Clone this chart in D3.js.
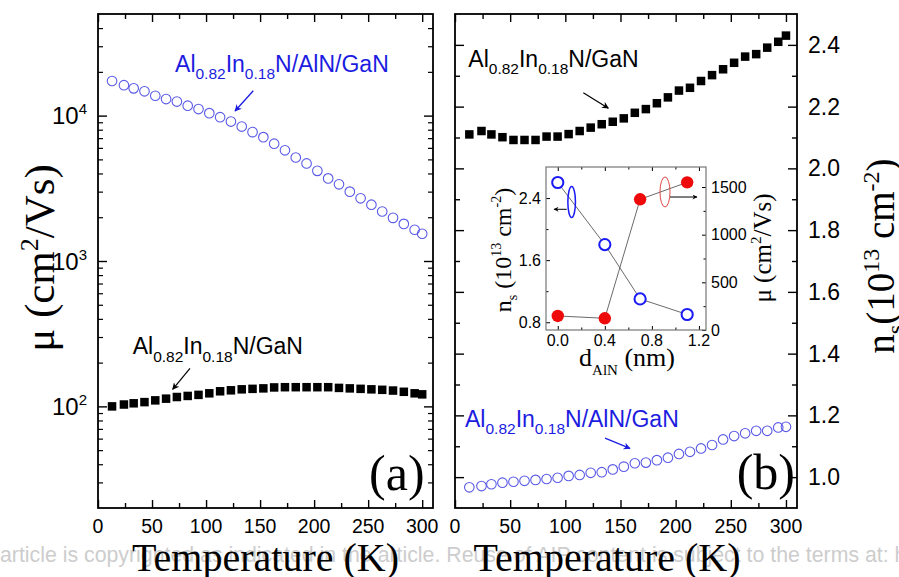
<!DOCTYPE html>
<html><head><meta charset="utf-8">
<script src="https://cdn.jsdelivr.net/npm/d3@7"></script>
<style>body{margin:0;background:#fff}svg{display:block}</style>
</head><body>
<svg id="c" width="899" height="577"></svg>
<script>
// ---------------- data ----------------
const temps = [13,24,33,43,53,63,73,83,93,103,113,123,133,143,153,163,173,183,193,203,213,223,233,243,253,263,273,283,293,300];
const muAlNGaN = [17300,16200,15400,14700,13700,13000,12500,11700,11100,10400,9750,9100,8410,7700,7110,6410,5770,5150,4690,4170,3700,3370,3000,2700,2440,2190,1980,1800,1640,1540];
const muGaN = [100,103,105,107,110,113,116,118,120,123,127,129,131,132,133,135,135.5,135.5,135.5,135.5,135.5,134,133,132,131,130,128.5,126,123,121];
const nsGaN = [2.110,2.121,2.110,2.101,2.092,2.092,2.092,2.103,2.103,2.111,2.121,2.132,2.143,2.151,2.162,2.180,2.192,2.211,2.230,2.252,2.261,2.283,2.302,2.321,2.342,2.362,2.370,2.391,2.410,2.430];
const nsAlNGaN = [0.967,0.971,0.977,0.982,0.985,0.988,0.991,0.994,0.998,1.004,1.007,1.014,1.016,1.025,1.034,1.045,1.047,1.055,1.063,1.075,1.082,1.093,1.104,1.122,1.133,1.142,1.150,1.150,1.161,1.163];
const dAlN = [0.0, 0.4, 0.7, 1.1];
const insetNs = [2.60, 1.80, 1.10, 0.90];
const insetMu = [147, 123, 1371, 1549];

const xTickMajor = [0,50,100,150,200,250,300];
const xTickMinor = [25,75,125,175,225,275];
const muTickMajor = [100,1000,10000];
const muTickExp = [2,3,4];
const nsTickMajor = [1.0,1.2,1.4,1.6,1.8,2.0,2.2,2.4];
const nsTickMinor = [1.1,1.3,1.5,1.7,1.9,2.1,2.3];
const insXMajor = [0.0,0.4,0.8,1.2];
const insXMinor = [0.2,0.6,1.0];
const insNsMajor = [0.8,1.6,2.4];
const insNsMinor = [1.2,2.0];
const insMuMajor = [0,500,1000,1500];
const insMuMinor = [250,750,1250];

const watermark = "article is copyrighted as indicated in the article. Reuse of AIP content is subject to the terms at: h";

// ---------------- setup ----------------
const SANS = "'Liberation Sans', Arial, Helvetica, sans-serif";
const SERIF = "'Liberation Serif', 'Times New Roman', Times, serif";
const BLUE_TXT = "#1c1ce0";
const BLUE_MK = "#5a5ae6";
const svg = d3.select("#c");

const defs = svg.append("defs");
function marker(id, color, w, h){
  defs.append("marker").attr("id", id).attr("viewBox","0 0 10 10").attr("refX",9).attr("refY",5)
    .attr("markerWidth", w).attr("markerHeight", h).attr("orient","auto").attr("markerUnits","userSpaceOnUse")
    .append("path").attr("d","M0,0 L10,5 L0,10 L3,5 Z").attr("fill", color);
}
marker("arrK","#000",9,7);
marker("arrB",BLUE_TXT,9,7);
marker("arrKs","#000",7,5);

// watermark (behind)
svg.append("text").attr("x",0).attr("y",562).attr("font-family",SANS).attr("font-size",21.3)
  .attr("fill","#cdcdcd").text(watermark);

// scales
const xL = d3.scaleLinear([0,310],[98,433]);
const yL = d3.scaleLog([20,50000],[508,14]);
const xR = d3.scaleLinear([0,310],[455,797]);
const yR = d3.scaleLinear([0.9,2.5],[508,14]);
const xI = d3.scaleLinear([-0.1,1.26],[546,706]);
const yIL = d3.scaleLinear([0.7,2.8],[330,167]);
const yIR = d3.scaleLinear([0,1710],[330,167]);

function tickSet(parent, axisFn, scale, vals, size, tx, ty, sw){
  const g = parent.append("g").attr("transform",`translate(${tx},${ty})`)
    .call(axisFn(scale).tickValues(vals).tickSize(-size).tickSizeOuter(0).tickFormat(""));
  g.select(".domain").remove();
  g.selectAll("line").attr("stroke","#000").attr("stroke-width",sw);
  return g;
}

function annot(parent, x, y, color, tail, size, subSize){
  const t = parent.append("text").attr("x",x).attr("y",y).attr("font-family",SANS)
    .attr("font-size",size).attr("fill",color);
  const sh = size*0.33;
  t.append("tspan").text("Al");
  t.append("tspan").attr("dy",sh).attr("font-size",subSize).text("0.82");
  t.append("tspan").attr("dy",-sh).text("In");
  t.append("tspan").attr("dy",sh).attr("font-size",subSize).text("0.18");
  t.append("tspan").attr("dy",-sh).text(tail);
  return t;
}
function arrow(parent, x1,y1,x2,y2,color,mk,w){
  parent.append("line").attr("x1",x1).attr("y1",y1).attr("x2",x2).attr("y2",y2)
    .attr("stroke",color).attr("stroke-width",w).attr("marker-end",`url(#${mk})`);
}

// ---------------- left panel ----------------
const L = svg.append("g");
L.selectAll("circle.a").data(temps).join("circle").attr("class","a")
  .attr("cx",(d)=>xL(d)).attr("cy",(d,i)=>yL(muAlNGaN[i])).attr("r",4.8)
  .attr("fill","none").attr("stroke",BLUE_MK).attr("stroke-width",1.1);
L.selectAll("rect.s").data(temps).join("rect").attr("class","s")
  .attr("x",(d)=>xL(d)-4.25).attr("y",(d,i)=>yL(muGaN[i])-4.25).attr("width",8.5).attr("height",8.5).attr("fill","#000");

const logMinor = [];
[10,100,1000,10000].forEach(dec=>{ for(let k=2;k<=9;k++){ const v=k*dec; if(v>20 && v<50000) logMinor.push(v);} });
tickSet(L, d3.axisBottom, xL, xTickMajor, 8, 0, 508, 1.4);
tickSet(L, d3.axisBottom, xL, xTickMinor, 5, 0, 508, 1.4);
tickSet(L, d3.axisTop, xL, xTickMajor, 8, 0, 14, 1.4);
tickSet(L, d3.axisTop, xL, xTickMinor, 5, 0, 14, 1.4);
tickSet(L, d3.axisLeft, yL, muTickMajor, 9, 98, 0, 1.4);
tickSet(L, d3.axisLeft, yL, logMinor, 5, 98, 0, 1.2);
tickSet(L, d3.axisRight, yL, muTickMajor, 9, 433, 0, 1.4);
tickSet(L, d3.axisRight, yL, logMinor, 5, 433, 0, 1.2);
L.append("rect").attr("x",98).attr("y",14).attr("width",335).attr("height",494)
  .attr("fill","none").attr("stroke","#000").attr("stroke-width",1.8);

L.selectAll("text.xt").data(xTickMajor).join("text").attr("class","xt")
  .attr("x",d=>xL(d)).attr("y",533).attr("text-anchor","middle")
  .attr("font-family",SANS).attr("font-size",19.5).text(d=>d);
muTickMajor.forEach((v,i)=>{
  const t = L.append("text").attr("x",87).attr("y",yL(v)+8.5).attr("text-anchor","end")
    .attr("font-family",SANS).attr("font-size",24);
  t.append("tspan").text("10");
  t.append("tspan").attr("dy",-10).attr("font-size",15).text(muTickExp[i]);
});
L.append("text").attr("x",xL(155)).attr("y",571).attr("text-anchor","middle")
  .attr("font-family",SERIF).attr("font-size",40).text("Temperature (K)");
{
  const t = L.append("text").attr("transform","translate(54,258) rotate(-90)").attr("text-anchor","middle")
    .attr("font-family",SERIF).attr("font-size",43);
  t.append("tspan").text("\u03BC (cm");
  t.append("tspan").attr("dy",-16).attr("font-size",26).text("2");
  t.append("tspan").attr("dy",16).text("/Vs)");
}
annot(L, xL(71.3), yL(20050), BLUE_TXT, "N/AlN/GaN", 23, 15.5);
arrow(L, xL(143.7), yL(14840), xL(126.8), yL(10760), BLUE_TXT, "arrB", 1.3);
annot(L, xL(32.1), yL(229), "#000", "N/GaN", 23, 15.5);
arrow(L, xL(85.1), yL(182.8), xL(69.1), yL(131.1), "#000", "arrK", 1.2);
L.append("text").attr("x",xL(302.2)).attr("y",yL(26.6)).attr("text-anchor","end")
  .attr("font-family",SERIF).attr("font-size",50).text("(a)");

// ---------------- right panel ----------------
const R = svg.append("g");
R.selectAll("rect.s").data(temps).join("rect").attr("class","s")
  .attr("x",(d)=>xR(d)-4.25).attr("y",(d,i)=>yR(nsGaN[i])-4.25).attr("width",8.5).attr("height",8.5).attr("fill","#000");
R.selectAll("circle.a").data(temps).join("circle").attr("class","a")
  .attr("cx",(d)=>xR(d)).attr("cy",(d,i)=>yR(nsAlNGaN[i])).attr("r",4.8)
  .attr("fill","none").attr("stroke",BLUE_MK).attr("stroke-width",1.1);

tickSet(R, d3.axisBottom, xR, xTickMajor, 8, 0, 508, 1.4);
tickSet(R, d3.axisBottom, xR, xTickMinor, 5, 0, 508, 1.4);
tickSet(R, d3.axisTop, xR, xTickMajor, 8, 0, 14, 1.4);
tickSet(R, d3.axisTop, xR, xTickMinor, 5, 0, 14, 1.4);
tickSet(R, d3.axisLeft, yR, nsTickMajor, 9, 455, 0, 1.4);
tickSet(R, d3.axisLeft, yR, nsTickMinor, 5, 455, 0, 1.4);
tickSet(R, d3.axisRight, yR, nsTickMajor, 9, 797, 0, 1.4);
tickSet(R, d3.axisRight, yR, nsTickMinor, 5, 797, 0, 1.4);
R.append("rect").attr("x",455).attr("y",14).attr("width",342).attr("height",494)
  .attr("fill","none").attr("stroke","#000").attr("stroke-width",1.8);

R.selectAll("text.xt").data(xTickMajor).join("text").attr("class","xt")
  .attr("x",d=>xR(d)).attr("y",533).attr("text-anchor","middle")
  .attr("font-family",SANS).attr("font-size",19.5).text(d=>d);
R.selectAll("text.yt").data(nsTickMajor).join("text").attr("class","yt")
  .attr("x",808).attr("y",d=>yR(d)+8).attr("font-family",SANS).attr("font-size",23)
  .text(d=>d.toFixed(1));
R.append("text").attr("x",607).attr("y",571).attr("text-anchor","middle")
  .attr("font-family",SERIF).attr("font-size",40).text("Temperature (K)");
{
  const t = R.append("text").attr("transform","translate(894,256) rotate(-90)").attr("text-anchor","middle")
    .attr("font-family",SERIF).attr("font-size",39);
  t.append("tspan").text("n");
  t.append("tspan").attr("dy",9).attr("font-size",24).text("s");
  t.append("tspan").attr("dy",-9).text("(10");
  t.append("tspan").attr("dy",-15).attr("font-size",24).text("13");
  t.append("tspan").attr("dy",15).text(" cm");
  t.append("tspan").attr("dy",-15).attr("font-size",24).text("-2");
  t.append("tspan").attr("dy",15).text(")");
}
annot(R, xR(12.1), yR(2.329), "#000", "N/GaN", 23, 15.5);
arrow(R, xR(116.3), yR(2.245), xR(139.0), yR(2.195), "#000", "arrK", 1.2);
annot(R, xR(9.1), yR(1.163), BLUE_TXT, "N/AlN/GaN", 23, 15.5);
arrow(R, xR(136.0), yR(1.126), xR(158.6), yR(1.093), BLUE_TXT, "arrB", 1.3);
R.append("text").attr("x",xR(308.2)).attr("y",yR(0.9615)).attr("text-anchor","end")
  .attr("font-family",SERIF).attr("font-size",50).text("(b)");

// ---------------- inset ----------------
const I = svg.append("g");
I.append("rect").attr("x",546).attr("y",167).attr("width",160).attr("height",163).attr("fill","#fff");
tickSet(I, d3.axisBottom, xI, insXMajor, 4, 0, 330, 1);
tickSet(I, d3.axisBottom, xI, insXMinor, 2.5, 0, 330, 1);
tickSet(I, d3.axisTop, xI, insXMajor, 4, 0, 167, 1);
tickSet(I, d3.axisTop, xI, insXMinor, 2.5, 0, 167, 1);
tickSet(I, d3.axisLeft, yIL, insNsMajor, 4, 546, 0, 1);
tickSet(I, d3.axisLeft, yIL, insNsMinor, 2.5, 546, 0, 1);
tickSet(I, d3.axisRight, yIR, insMuMajor, 4, 706, 0, 1);
tickSet(I, d3.axisRight, yIR, insMuMinor, 2.5, 706, 0, 1);
I.append("rect").attr("x",546).attr("y",167).attr("width",160).attr("height",163)
  .attr("fill","none").attr("stroke","#777").attr("stroke-width",1.2);

const lnNs = d3.line().x((d,i)=>xI(dAlN[i])).y((d)=>yIL(d));
const lnMu = d3.line().x((d,i)=>xI(dAlN[i])).y((d)=>yIR(d));
I.append("path").attr("d",lnNs(insetNs)).attr("fill","none").attr("stroke","#444").attr("stroke-width",0.8);
I.append("path").attr("d",lnMu(insetMu)).attr("fill","none").attr("stroke","#444").attr("stroke-width",0.8);
I.selectAll("circle.ns").data(insetNs).join("circle").attr("class","ns")
  .attr("cx",(d,i)=>xI(dAlN[i])).attr("cy",d=>yIL(d)).attr("r",5.6)
  .attr("fill","#fff").attr("stroke","#1a1af5").attr("stroke-width",2);
I.selectAll("circle.mu").data(insetMu).join("circle").attr("class","mu")
  .attr("cx",(d,i)=>xI(dAlN[i])).attr("cy",d=>yIR(d)).attr("r",6.2)
  .attr("fill","#ee0a0a");

I.append("ellipse").attr("cx",xI(0.118)).attr("cy",yIL(2.349)).attr("rx",3.8).attr("ry",15.5)
  .attr("fill","none").attr("stroke","#1a1af5").attr("stroke-width",1.5);
arrow(I, xI(0.076), yIL(2.255), xI(-0.032), yIL(2.255), "#000", "arrKs", 1);
I.append("ellipse").attr("cx",xI(0.9115)).attr("cy",yIR(1448)).attr("rx",5).attr("ry",15)
  .attr("fill","none").attr("stroke","#e04848").attr("stroke-width",1);
arrow(I, xI(0.954), yIR(1395), xI(1.1835), yIR(1395), "#000", "arrKs", 1);

I.selectAll("text.ix").data(insXMajor).join("text").attr("class","ix")
  .attr("x",d=>xI(d)).attr("y",346).attr("text-anchor","middle")
  .attr("font-family",SANS).attr("font-size",16).text(d=>d.toFixed(1));
I.selectAll("text.il").data(insNsMajor).join("text").attr("class","il")
  .attr("x",541).attr("y",d=>yIL(d)+5.5).attr("text-anchor","end")
  .attr("font-family",SANS).attr("font-size",16).text(d=>d.toFixed(1));
I.selectAll("text.ir").data(insMuMajor).join("text").attr("class","ir")
  .attr("x",711).attr("y",d=>yIR(d)+5.5)
  .attr("font-family",SANS).attr("font-size",16).text(d=>d);

{
  const t = I.append("text").attr("x",627).attr("y",366).attr("text-anchor","middle")
    .attr("font-family",SERIF).attr("font-size",26);
  t.append("tspan").text("d");
  t.append("tspan").attr("dy",9).attr("font-size",15).text("AlN");
  t.append("tspan").attr("dy",-9).text(" (nm)");
}
{
  const t = I.append("text").attr("transform","translate(511,250) rotate(-90)").attr("text-anchor","middle")
    .attr("font-family",SERIF).attr("font-size",24);
  t.append("tspan").text("n");
  t.append("tspan").attr("dy",6).attr("font-size",14).text("s");
  t.append("tspan").attr("dy",-6).text(" (10");
  t.append("tspan").attr("dy",-10).attr("font-size",14).text("13");
  t.append("tspan").attr("dy",10).text(" cm");
  t.append("tspan").attr("dy",-10).attr("font-size",14).text("-2");
  t.append("tspan").attr("dy",10).text(")");
}
{
  const t = I.append("text").attr("transform","translate(771,248) rotate(-90)").attr("text-anchor","middle")
    .attr("font-family",SERIF).attr("font-size",25);
  t.append("tspan").text("\u03BC (cm");
  t.append("tspan").attr("dy",-10).attr("font-size",15).text("2");
  t.append("tspan").attr("dy",10).text("/Vs)");
}
</script>
</body></html>
